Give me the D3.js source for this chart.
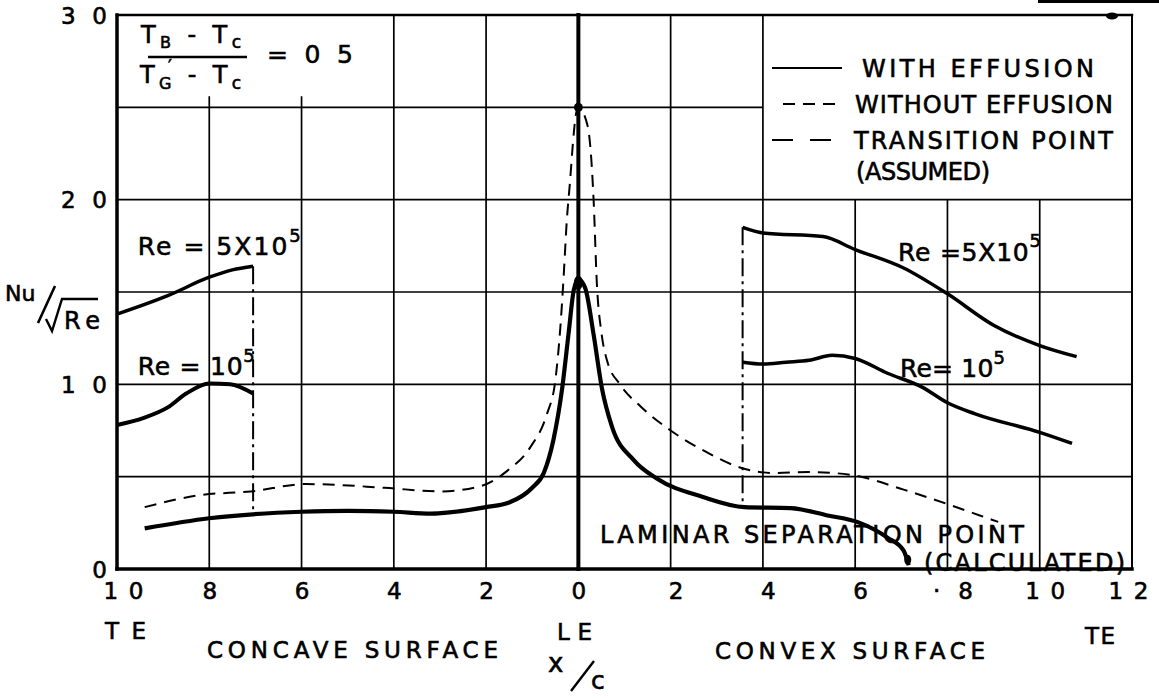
<!DOCTYPE html>
<html>
<head>
<meta charset="utf-8">
<script src="https://cdn.jsdelivr.net/npm/d3@7"></script>
<style>
body { margin: 0; background: #fff; }
svg { display: block; }
text { font-family: "DejaVu Sans", sans-serif; fill: #000; stroke: #000; stroke-width: 0.6px; }
</style>
</head>
<body>
<script>
// Data. x/c is negative on the concave surface, positive on the convex one

var xTicks = [-1.0, -0.8, -0.6, -0.4, -0.2, 0, 0.2, 0.4, 0.6, 0.8, 1.0, 1.2];
var xTickLabels = ['1 0', '8', '6', '4', '2', '0', '2', '4', '6', '\u00b78', '1 0', '1 2'];
var yTicks = [0, 1.0, 2.0, 3.0];
var yTickLabels = ['0', '1 0', '2 0', '3 0'];

// with effusion, leading edge curve
var effX = [-0.94, -0.8, -0.6, -0.5, -0.4, -0.32, -0.2, -0.15, -0.1, -0.075, -0.054, -0.035, -0.021,
    -0.01, 0, 0.015, 0.033, 0.051, 0.073, 0.12, 0.17, 0.27, 0.36, 0.46, 0.54, 0.61, 0.67, 0.705, 0.716];
var effY = [0.22, 0.275, 0.31, 0.315, 0.31, 0.30, 0.335, 0.36, 0.44, 0.52, 0.70, 0.98, 1.28,
    1.51, 1.57, 1.52, 1.27, 0.98, 0.77, 0.59, 0.49, 0.39, 0.335, 0.33, 0.29, 0.25, 0.17, 0.10, 0.02];

// without effusion
var noEffX = [-0.94, -0.82, -0.71, -0.59, -0.42, -0.30, -0.21, -0.155, -0.104, -0.068, -0.05, -0.039,
    -0.032, -0.025, -0.018, -0.012, -0.006, 0, 0.02, 0.028, 0.033, 0.04, 0.05, 0.062, 0.09, 0.135, 0.2,
    0.28, 0.35, 0.42, 0.5, 0.59, 0.705, 0.79, 0.87, 0.91];
var noEffY = [0.335, 0.40, 0.42, 0.46, 0.44, 0.42, 0.45, 0.53, 0.66, 0.84, 1.02, 1.31,
    1.58, 1.89, 2.1, 2.3, 2.45, 2.5, 2.4, 2.22, 2.0, 1.55, 1.28, 1.13, 1.0, 0.88, 0.75,
    0.63, 0.55, 0.52, 0.525, 0.51, 0.43, 0.36, 0.29, 0.255];

// Re = 5x10^5 and Re = 10^5, concave surface
var re5ConcX = [-1.0, -0.89, -0.8, -0.75, -0.705];
var re5ConcY = [1.38, 1.48, 1.58, 1.62, 1.64];
var re1ConcX = [-1.0, -0.94, -0.89, -0.85, -0.8, -0.755, -0.705];
var re1ConcY = [0.78, 0.82, 0.875, 0.95, 1.005, 1.0, 0.95];

// Re = 5x10^5 and Re = 10^5, convex surface
var re5ConvX = [0.356, 0.4, 0.53, 0.6, 0.705, 0.8, 0.9, 1.0, 1.08];
var re5ConvY = [1.85, 1.82, 1.80, 1.73, 1.63, 1.49, 1.32, 1.21, 1.15];
var re1ConvX = [0.356, 0.4, 0.45, 0.5, 0.55, 0.6, 0.67, 0.745, 0.8, 0.86, 1.0, 1.07];
var re1ConvY = [1.12, 1.11, 1.12, 1.13, 1.157, 1.14, 1.06, 0.985, 0.90, 0.84, 0.74, 0.68];

// transition points (assumed)
var transX = [-0.705, 0.356];
var transTop = [1.64, 1.85];
var transBottom = [0.31, 0.335];

// separation point (calculated)
var sepX = 0.716;
var sepY = 0.05;


// ===========================================================================
// Layout

var svg = d3.select('body').append('svg')
    .attr('width', 1159)
    .attr('height', 698);

var x = d3.scaleLinear().domain([-1.0, 1.2]).range([117, 1132]);
var y = d3.scaleLinear().domain([0, 3.0]).range([569, 15]);

// grid segments: [value, from, to] in data units
var gridV = [[-0.8, 0, 2.56], [-0.6, 0, 2.56], [-0.4, 0, 3], [-0.2, 0, 3], [0.2, 0, 3],
    [0.4, 0, 3], [0.6, 0, 2], [0.8, 0, 2], [1.0, 0, 2]];
var gridH = [[0.5, -1, 1.2], [1.0, -1, 1.2], [1.5, -1, 1.2], [2.0, -1, 1.2], [2.5, -1, 0.4]];

var grid = svg.append('g')
    .attr('stroke', '#000')
    .attr('stroke-width', 1.7);

grid.selectAll('line.v').data(gridV).enter()
    .append('line')
    .attr('class', 'v')
    .attr('x1', function (d) { return x(d[0]); })
    .attr('x2', function (d) { return x(d[0]); })
    .attr('y1', function (d) { return y(d[1]); })
    .attr('y2', function (d) { return y(d[2]); });

grid.selectAll('line.h').data(gridH).enter()
    .append('line')
    .attr('class', 'h')
    .attr('y1', function (d) { return y(d[0]); })
    .attr('y2', function (d) { return y(d[0]); })
    .attr('x1', function (d) { return x(d[1]); })
    .attr('x2', function (d) { return x(d[2]); });

// Frame and leading edge line
function frameLine(x1, y1, x2, y2, w) {
    svg.append('line')
        .attr('x1', x(x1)).attr('y1', y(y1))
        .attr('x2', x(x2)).attr('y2', y(y2))
        .attr('stroke', '#000')
        .attr('stroke-width', w)
        .attr('stroke-linecap', 'square');
}
frameLine(-1.0, 0, -1.0, 3.0, 3.5);
frameLine(-1.0, 3.0, 1.2, 3.0, 2.5);
frameLine(1.2, 3.0, 1.2, 0, 2);
frameLine(-1.0, 0, 1.2, 0, 3.5);
frameLine(0, 0, 0, 3.0, 4);

// scan marks at top right
svg.append('rect')
    .attr('x', 1038).attr('y', 0)
    .attr('width', 121).attr('height', 3)
    .attr('fill', '#000');
svg.append('ellipse')
    .attr('cx', 1112).attr('cy', y(3.0) + 1)
    .attr('rx', 6).attr('ry', 3.5)
    .attr('fill', '#000');

// Axes
var xAxis = svg.append('g')
    .attr('transform', 'translate(0,' + y(0) + ')')
    .call(d3.axisBottom(x)
        .tickValues(xTicks)
        .tickSize(0)
        .tickFormat(function (d, i) { return xTickLabels[i]; }));
xAxis.select('.domain').remove();
xAxis.attr('font-family', null).attr('font-size', null);
xAxis.selectAll('text')
    .attr('y', 30)
    .attr('dy', 0)
    .attr('dx', function (d) { return d === 1.2 ? -4 : d > 0 ? 5 : (d === -1.0 ? 6 : 0); })
    .attr('font-size', 23)
    .attr('textLength', function (d, i) { return xTickLabels[i].length > 1 ? 40 : null; })
    .attr('lengthAdjust', 'spacing');

var yAxis = svg.append('g')
    .attr('transform', 'translate(' + x(-1.0) + ',0)')
    .call(d3.axisLeft(y)
        .tickValues(yTicks)
        .tickSize(0)
        .tickFormat(function (d, i) { return yTickLabels[i]; }));
yAxis.select('.domain').remove();
yAxis.attr('font-family', null).attr('font-size', null);
yAxis.selectAll('text')
    .attr('x', -10)
    .attr('dy', '0.36em')
    .attr('font-size', 23)
    .attr('textLength', function (d, i) { return yTickLabels[i].length > 1 ? 46 : null; })
    .attr('lengthAdjust', 'spacing');

// Curves
var line = d3.line()
    .x(function (d) { return x(d[0]); })
    .y(function (d) { return y(d[1]); })
    .curve(d3.curveMonotoneX);

function curve(xs, ys, width, dash) {
    svg.append('path')
        .datum(d3.zip(xs, ys))
        .attr('d', line)
        .attr('fill', 'none')
        .attr('stroke', '#000')
        .attr('stroke-width', width)
        .attr('stroke-linejoin', 'round')
        .attr('stroke-dasharray', dash || null);
}

curve(noEffX, noEffY, 2, '12,8');
curve(effX, effY, 4.2);
curve(re5ConcX, re5ConcY, 3.5);
curve(re1ConcX, re1ConcY, 4);
curve(re5ConvX, re5ConvY, 3.5);
curve(re1ConvX, re1ConvY, 3.5);

// Transition point lines
svg.selectAll('line.trans').data(transX).enter()
    .append('line')
    .attr('class', 'trans')
    .attr('x1', function (d) { return x(d); })
    .attr('x2', function (d) { return x(d); })
    .attr('y1', function (d, i) { return y(transTop[i]); })
    .attr('y2', function (d, i) { return y(transBottom[i]); })
    .attr('stroke', '#000')
    .attr('stroke-width', 2)
    .attr('stroke-dasharray', '18,5,3,5');

// Markers
svg.append('circle')
    .attr('cx', x(0)).attr('cy', y(2.5))
    .attr('r', 4.5)
    .attr('fill', '#000');
svg.append('ellipse')
    .attr('cx', x(0)).attr('cy', y(1.55))
    .attr('rx', 4.5).attr('ry', 7)
    .attr('fill', '#000');
svg.append('ellipse')
    .attr('cx', x(sepX) - 1).attr('cy', y(sepY))
    .attr('rx', 3.5).attr('ry', 5)
    .attr('fill', '#000');

// Text helpers
function label(px, py, parts, size, len) {
    var t = svg.append('text')
        .attr('x', px)
        .attr('y', py)
        .attr('font-size', size);
    parts.forEach(function (p) {
        var s = t.append('tspan').text(p[0]);
        if (p[1]) {
            s.attr('dy', p[1]).attr('font-size', p[2] || size * 0.7);
        }
    });
    if (len) {
        t.attr('textLength', len).attr('lengthAdjust', 'spacing');
    }
    return t;
}

// Fraction in the top left corner
label(141, 43, [['T'], ['B', 5, 16], [' - T', -5, 24], ['c', 5, 17]], 24, 100);
svg.append('line')
    .attr('x1', 148).attr('x2', 247)
    .attr('y1', 57).attr('y2', 57)
    .attr('stroke', '#000').attr('stroke-width', 2.5);
label(140, 83, [['T'], ['G', 6, 16], [' - T', -6, 24], ['c', 6, 17]], 24, 101);
label(168, 72, [['\u2032']], 17);
label(267, 63, [['=  0  5']], 25, 86);

// Legend
var legendRows = [
    { y: 68, text: 'WITH EFFUSION', x1: 862, x2: 1094, dash: null, lx: 772 },
    { y: 104, text: 'WITHOUT EFFUSION', x1: 855, x2: 1113, dash: '12,8', lx: 783 },
    { y: 140, text: 'TRANSITION POINT', x1: 854, x2: 1113, dash: '21,17', lx: 772 }
];
legendRows.forEach(function (r) {
    svg.append('line')
        .attr('x1', r.lx).attr('x2', 842)
        .attr('y1', r.y).attr('y2', r.y)
        .attr('stroke', '#000')
        .attr('stroke-width', 2)
        .attr('stroke-dasharray', r.dash);
    label(r.x1, r.y + 9, [[r.text]], 24, r.x2 - r.x1);
});
label(856, 180, [['(ASSUMED)']], 24, 134);

// Curve labels
label(x(-0.955), y(1.7), [['Re = 5X10'], ['5', -13, 18]], 25, 163);
label(x(-0.955), y(1.05), [['Re =  10'], ['5', -13, 18]], 25, 117);
label(898, y(1.67), [['Re =5X10'], ['5', -14, 18]], 25, 143);
label(900, y(1.04), [['Re= 10'], ['5', -13, 18]], 25, 105);

label(600, 543, [['LAMINAR  SEPARATION  POINT']], 24, 424);
label(924, 571, [['(CALCULATED)']], 24, 201);

// Axis annotations
label(105, 639, [['TE']], 23, 41);
label(207, 658, [['CONCAVE  SURFACE']], 23, 291);
label(557, 640, [['LE']], 23, 35);
label(715, 659, [['CONVEX  SURFACE']], 23, 270);
label(1085, 644, [['TE']], 23, 30);

// x/c
label(548, 672, [['x']], 26);
svg.append('line')
    .attr('x1', 571).attr('y1', 691)
    .attr('x2', 594).attr('y2', 661)
    .attr('stroke', '#000').attr('stroke-width', 2.4);
label(591, 689, [['c']], 25);

// Nu / sqrt(Re)
label(5, 301, [['Nu']], 22);
svg.append('line')
    .attr('x1', 38).attr('y1', 323)
    .attr('x2', 55).attr('y2', 286)
    .attr('stroke', '#000').attr('stroke-width', 2.6);
svg.append('path')
    .attr('d', 'M46,319 L52,331 L62,299 L98,299')
    .attr('fill', 'none')
    .attr('stroke', '#000')
    .attr('stroke-width', 2.4);
label(64, 329, [['Re']], 24, 36);
</script>
</body>
</html>
